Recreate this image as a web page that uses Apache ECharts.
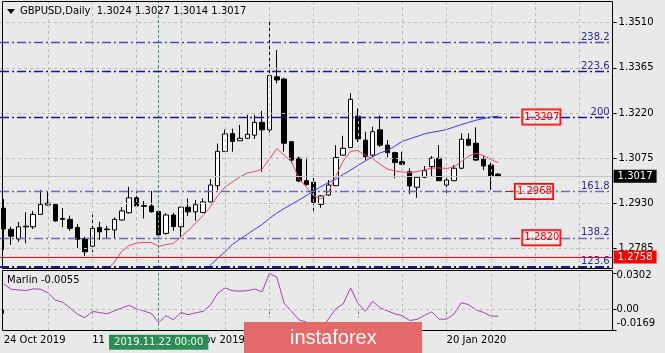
<!DOCTYPE html>
<html>
<head>
<meta charset="utf-8">
<script src="https://cdn.jsdelivr.net/npm/echarts@6/dist/echarts.min.js"></script>
<style>
html, body { margin: 0; padding: 0; background: #e9e9e9; }
#chart { width: 665px; height: 353px; }
</style>
</head>
<body>
<div id="chart"></div>
<script>
let symbol = 'GBPUSD';
let period = 'Daily';
const FONT = 'DejaVu Sans';

let dates = [
    '2019.10.24', '2019.10.25', '2019.10.28', '2019.10.29', '2019.10.30', '2019.10.31', '2019.11.01',
    '2019.11.04', '2019.11.05', '2019.11.06', '2019.11.07', '2019.11.08',
    '2019.11.11', '2019.11.12', '2019.11.13', '2019.11.14', '2019.11.15',
    '2019.11.18', '2019.11.19', '2019.11.20', '2019.11.21', '2019.11.22',
    '2019.11.25', '2019.11.26', '2019.11.27', '2019.11.28', '2019.11.29',
    '2019.12.02', '2019.12.03', '2019.12.04', '2019.12.05', '2019.12.06',
    '2019.12.09', '2019.12.10', '2019.12.11', '2019.12.12', '2019.12.13',
    '2019.12.16', '2019.12.17', '2019.12.18', '2019.12.19', '2019.12.20',
    '2019.12.23', '2019.12.24', '2019.12.26', '2019.12.27', '2019.12.30', '2019.12.31',
    '2020.01.02', '2020.01.03',
    '2020.01.06', '2020.01.07', '2020.01.08', '2020.01.09', '2020.01.10',
    '2020.01.13', '2020.01.14', '2020.01.15', '2020.01.16', '2020.01.17',
    '2020.01.20', '2020.01.21', '2020.01.22', '2020.01.23', '2020.01.24',
    '2020.01.27', '2020.01.28', '2020.01.29'
];

let opens = [
    1.2915, 1.2847, 1.2816, 1.2857, 1.2855, 1.2895, 1.2925, 1.2927, 1.2882, 1.2879,
    1.2853, 1.2817, 1.2793, 1.2853, 1.2848, 1.2845, 1.2877, 1.2900, 1.2948, 1.2923,
    1.2922, 1.2904, 1.2834, 1.2893, 1.2855, 1.2918, 1.2903, 1.2901, 1.2935, 1.2987,
    1.3097, 1.3154, 1.3131, 1.3139, 1.3149, 1.3190, 1.3166, 1.3336, 1.3329, 1.3128,
    1.3075, 1.3003, 1.2998, 1.2927, 1.2957, 1.2987, 1.3085, 1.3109, 1.3210, 1.3133,
    1.3085, 1.3166, 1.3117, 1.3093, 1.3064, 1.3032, 1.2982, 1.3014, 1.3048, 1.3075,
    1.2989, 1.3003, 1.3043, 1.3136, 1.3123, 1.3072, 1.3053, 1.3024
];
let highs = [
    1.2944, 1.2855, 1.2871, 1.2902, 1.2906, 1.2973, 1.2970, 1.2931, 1.2915, 1.2891,
    1.2864, 1.2823, 1.2894, 1.2871, 1.2858, 1.2885, 1.2918, 1.2983, 1.2971, 1.2938,
    1.2970, 1.2909, 1.2899, 1.2900, 1.2919, 1.2946, 1.2941, 1.2946, 1.3008, 1.3122,
    1.3167, 1.3170, 1.3182, 1.3214, 1.3214, 1.3227, 1.3515, 1.3422, 1.3333, 1.3130,
    1.3080, 1.3077, 1.3023, 1.2957, 1.3005, 1.3117, 1.3147, 1.3283, 1.3235, 1.3160,
    1.3176, 1.3212, 1.3133, 1.3096, 1.3096, 1.3043, 1.3018, 1.3050, 1.3082, 1.3117,
    1.3014, 1.3053, 1.3155, 1.3155, 1.3174, 1.3082, 1.3061, 1.3027
];
let lows = [
    1.2781, 1.2797, 1.2807, 1.2802, 1.2848, 1.2894, 1.2923, 1.2871, 1.2854, 1.2842,
    1.2787, 1.2761, 1.2774, 1.2813, 1.2818, 1.2819, 1.2875, 1.2898, 1.2918, 1.2882,
    1.2901, 1.2825, 1.2830, 1.2842, 1.2823, 1.2890, 1.2875, 1.2899, 1.2934, 1.2973,
    1.3095, 1.3096, 1.3130, 1.3137, 1.3137, 1.3032, 1.3158, 1.3315, 1.3096, 1.3059,
    1.2999, 1.2987, 1.2898, 1.2916, 1.2954, 1.2986, 1.3084, 1.3108, 1.3127, 1.3069,
    1.3079, 1.3111, 1.3078, 1.3011, 1.3053, 1.2960, 1.2948, 1.3011, 1.3018, 1.3002,
    1.2960, 1.3002, 1.3040, 1.3114, 1.3066, 1.3037, 1.2973, 1.3014
];
let closes = [
    1.2848, 1.2825, 1.2855, 1.2855, 1.2895, 1.2927, 1.2931, 1.2874, 1.2879, 1.2850,
    1.2815, 1.2775, 1.2850, 1.2839, 1.2846, 1.2879, 1.2906, 1.2948, 1.2922, 1.2921,
    1.2903, 1.2829, 1.2893, 1.2856, 1.2918, 1.2903, 1.2926, 1.2935, 1.2989, 1.3097,
    1.3153, 1.3129, 1.3139, 1.3152, 1.3190, 1.3166, 1.3340, 1.3326, 1.3123, 1.3069,
    1.3002, 1.2991, 1.2934, 1.2954, 1.2989, 1.3077, 1.3107, 1.3264, 1.3137, 1.3080,
    1.3160, 1.3117, 1.3093, 1.3061, 1.3056, 1.2986, 1.3014, 1.3035, 1.3075, 1.3003,
    1.3005, 1.3043, 1.3136, 1.3117, 1.3069, 1.3050, 1.3018, 1.3017
];

// short MA (red) and long MA (blue)
let maFast = [
    null, null, null, null, null, null, null, null, null, null, null, null, null, null,
    1.2716, 1.2742, 1.2777, 1.2795, 1.2803, 1.2805, 1.2805, 1.2792, 1.2798, 1.2802,
    1.2822, 1.2843, 1.2867, 1.2891, 1.2919, 1.2955, 1.2983, 1.2999, 1.3015, 1.3028,
    1.3032, 1.3040, 1.3072, 1.3106, 1.3085, 1.3064, 1.3010, 1.2983, 1.2954, 1.2944,
    1.2967, 1.3018, 1.3066, 1.3097, 1.3100, 1.3084, 1.3074, 1.3055, 1.3040, 1.3034,
    1.3031, 1.3029, 1.3032, 1.3038, 1.3043, 1.3044, 1.3042, 1.3047, 1.3064, 1.3082,
    1.3091, 1.3084, 1.3071, 1.3061
];
let maSlow = [
    null, null, null, null, null, null, null, null, null, null, null, null, null, null,
    null, null, null, null, null, null, null, null, null, null, null, null, null,
    1.2710, 1.2732, 1.2754, 1.2776, 1.2799, 1.2815, 1.2831, 1.2847, 1.2862, 1.2882,
    1.2899, 1.2914, 1.2927, 1.2941, 1.2955, 1.2970, 1.2984, 1.2997, 1.3008, 1.3023,
    1.3037, 1.3052, 1.3066, 1.3080, 1.3092, 1.3100, 1.3114, 1.3129, 1.3137, 1.3145,
    1.3153, 1.3158, 1.3162, 1.3167, 1.3175, 1.3183, 1.3190, 1.3197, 1.3202, 1.3207,
    1.3210
];
let marlin = [
    0.0215, 0.0170, 0.0164, 0.0159, 0.0173, 0.0170, 0.0140, 0.0080, 0.0061, 0.0014,
    -0.0038, -0.0067, -0.0014, -0.0024, -0.0034, -0.0010, 0.0015, 0.0036, 0.0007, -0.0012,
    -0.0031, -0.0107, -0.0050, -0.0084, -0.0023, -0.0042, -0.0027, -0.0014, 0.0036, 0.0137,
    0.0181, 0.0158, 0.0154, 0.0158, 0.0172, 0.0148, 0.0302, 0.0271, 0.0053, -0.0014,
    -0.0084, -0.0104, -0.0135, -0.0169, -0.0077, 0.0007, 0.0049, 0.0181, 0.0053, -0.0013,
    0.0070, 0.0015, -0.0010, -0.0035, -0.0050, -0.0090, -0.0081, -0.0048, -0.0018, -0.0079,
    -0.0079, -0.0037, 0.0057, 0.0042, -0.0002, -0.0023, -0.0052, -0.0055
];

let priceTicks = [1.2785, 1.2930, 1.3075, 1.3220, 1.3365, 1.3510];
let marlinTicks = [-0.0169, 0, 0.0302];

let fibNames = ['238.2', '223.6', '200', '161.8', '138.2', '123.6'];
let fibLevels = [1.3447, 1.3355, 1.3207, 1.2968, 1.2820, 1.2728];
let fibColors = ['#4a4ac8', '#1a1a8e', '#1a1a8e', '#6a6ac4', '#6a6ac4', '#1a1a8e'];

let boxLevels = [1.3207, 1.2968, 1.2820];
let boxStart = [69, 68, 69];

let supportLevel = 1.2758;
let markedBar = 21;
let slots = 83;

const MONTHS = ['Jan', 'Feb', 'Mar', 'Apr', 'May', 'Jun', 'Jul', 'Aug', 'Sep', 'Oct', 'Nov', 'Dec'];
function fmtDate(s) {
    let p = s.split('.');
    return (+p[2]) + ' ' + MONTHS[+p[1] - 1] + ' ' + p[0];
}

let cats = dates.slice();
for (let i = dates.length; i < slots; i++) cats.push('f' + i);

let last = dates.length - 1;
let candles = [];
for (let i = 0; i < dates.length; i++) {
    candles.push([opens[i], closes[i], lows[i], highs[i]]);
}

let vGrid = [];
for (let i = 6; i < slots; i += 6) vGrid.push({ xAxis: i });

let dashGrid = { color: '#bcbcbc', type: [3, 3], width: 1 };
let greenDash = { color: '#2e9b5a', type: [3, 2], width: 1 };

let fibLines = fibLevels.map((lvl, k) => ({
    yAxis: lvl,
    lineStyle: { color: fibColors[k], type: [9, 3, 2, 3], width: k === 5 ? 2 : 1.3 },
    label: {
        show: true, position: 'insideEndTop', formatter: fibNames[k], distance: [3, 0],
        color: '#2a2a9e', fontSize: 10, fontFamily: FONT
    }
}));

let boxLines = boxLevels.map((lvl, k) => [
    {
        coord: [boxStart[k], lvl],
        lineStyle: { color: '#f00', type: 'solid', width: 1 },
        label: {
            show: true, position: 'end', distance: 2, formatter: lvl.toFixed(4),
            color: '#f00', fontSize: 10, fontFamily: FONT,
            backgroundColor: 'rgba(255,255,255,0.25)', borderColor: '#f00', borderWidth: 1,
            padding: [3, 1, 2, 2]
        }
    },
    { coord: [boxStart[k] + 1, lvl] }
]);

let levelLines = fibLines.concat(boxLines).concat([
    {
        yAxis: supportLevel,
        lineStyle: { color: '#ff0000', type: 'solid', width: 1 },
        label: {
            show: true, position: 'end', distance: 1, formatter: supportLevel.toFixed(4),
            color: '#fff', backgroundColor: '#f00', padding: [2, 4, 1, 4],
            fontSize: 10, fontFamily: FONT
        }
    },
    {
        yAxis: closes[last],
        lineStyle: { color: '#c4c4c4', type: 'solid', width: 1 },
        label: {
            show: true, position: 'end', distance: 1, formatter: closes[last].toFixed(4),
            color: '#fff', backgroundColor: '#000', padding: [2, 4, 1, 4],
            fontSize: 10, fontFamily: FONT
        }
    }
]);

let option = {
    animation: false,
    backgroundColor: '#e9e9e9',
    textStyle: { fontFamily: FONT },
    title: [
        {
            text: symbol + ',' + period + '  ' + [opens[last], highs[last], lows[last], closes[last]].map(v => v.toFixed(4)).join(' '),
            left: 20, top: 6, padding: 0,
            textStyle: { fontSize: 10, fontWeight: 'normal', color: '#000', fontFamily: FONT }
        },
        {
            text: 'Marlin ' + marlin[last].toFixed(4),
            left: 7, top: 275, padding: 0,
            textStyle: { fontSize: 10, fontWeight: 'normal', color: '#000', fontFamily: FONT }
        }
    ],
    grid: [
        { left: 0, top: 2, width: 612.6, height: 266, containLabel: false, outerBoundsMode: 'none' },
        { left: 0, top: 270, width: 612.6, height: 60.7, containLabel: false, outerBoundsMode: 'none' }
    ],
    xAxis: [
        {
            type: 'category', gridIndex: 0, data: cats, boundaryGap: true,
            axisLine: { show: false }, axisTick: { show: false }, axisLabel: { show: false },
            splitLine: { show: false }
        },
        {
            type: 'category', gridIndex: 1, data: cats, boundaryGap: true,
            axisLine: { show: false },
            axisTick: {
                show: true, alignWithLabel: true, length: 4,
                interval: (i) => i % 12 === 0 && i < dates.length,
                lineStyle: { color: '#000' }
            },
            axisLabel: {
                interval: (i) => i % 12 === 0 && i < dates.length,
                formatter: (v) => fmtDate(v), align: 'left', margin: 5,
                color: '#000', fontSize: 10, fontFamily: FONT
            },
            splitLine: { show: false },
            axisPointer: {
                show: true, value: markedBar, status: 'show', type: 'line', snap: false,
                triggerTooltip: false,
                lineStyle: { opacity: 0 },
                label: {
                    show: true, margin: 4,
                    formatter: (p) => (typeof p.value === 'number' ? cats[p.value] : p.value) + ' 00:00',
                    backgroundColor: '#2e8b57', color: '#f0fff0', padding: [3, 5, 2, 5],
                    fontSize: 10, fontFamily: FONT, borderRadius: 0
                }
            }
        }
    ],
    yAxis: [
        {
            type: 'value', gridIndex: 0, position: 'right', min: 1.2723, max: 1.3576,
            axisLine: { show: false },
            axisTick: { show: true, length: 4, customValues: priceTicks, lineStyle: { color: '#000' } },
            axisLabel: {
                customValues: priceTicks, formatter: (v) => v.toFixed(4), margin: 6,
                color: '#000', fontSize: 10, fontFamily: FONT
            },
            splitLine: { show: false }
        },
        {
            type: 'value', gridIndex: 1, position: 'right', min: -0.0175, max: 0.0330,
            axisLine: { show: false },
            axisTick: { show: true, length: 4, customValues: marlinTicks, lineStyle: { color: '#000' } },
            axisLabel: {
                customValues: marlinTicks, margin: 4,
                formatter: (v) => v > 0 ? '{t|' + v.toFixed(4) + '}' : (v < 0 ? '{b|' + v.toFixed(4) + '}' : '0.00'),
                color: '#000', fontSize: 10, fontFamily: FONT,
                rich: {
                    t: { padding: [5, 0, 0, 0], fontSize: 10, fontFamily: FONT, color: '#000' },
                    b: { padding: [0, 0, 13, 0], fontSize: 10, fontFamily: FONT, color: '#000' }
                }
            },
            splitLine: { show: false }
        }
    ],
    series: [
        {
            name: 'grid',
            type: 'line', xAxisIndex: 0, yAxisIndex: 0, data: closes,
            symbol: 'none', silent: true, z: 0,
            lineStyle: { opacity: 0 },
            markLine: {
                symbol: 'none', silent: true, precision: 6, label: { show: false }, emphasis: { disabled: true },
                data: priceTicks.map(v => ({ yAxis: v, lineStyle: dashGrid }))
                    .concat(vGrid.map(d => Object.assign({ lineStyle: dashGrid }, d)))
                    .concat([{ xAxis: markedBar, lineStyle: greenDash }])
            }
        },
        {
            name: symbol,
            type: 'candlestick', xAxisIndex: 0, yAxisIndex: 0, data: candles,
            barWidth: 5, z: 3,
            itemStyle: {
                color: '#ffffff', color0: '#000000',
                borderColor: '#000000', borderColor0: '#000000', borderWidth: 1
            }
        },
        {
            name: 'levels',
            type: 'line', xAxisIndex: 0, yAxisIndex: 0, data: closes,
            symbol: 'none', silent: true, z: 2,
            lineStyle: { opacity: 0 },
            markLine: {
                symbol: 'none', silent: true, precision: 6, emphasis: { disabled: true },
                data: levelLines
            }
        },
        {
            name: 'MA fast',
            type: 'line', xAxisIndex: 0, yAxisIndex: 0, data: maFast,
            symbol: 'none', z: 4,
            lineStyle: { color: '#e84a62', width: 1 }
        },
        {
            name: 'MA slow',
            type: 'line', xAxisIndex: 0, yAxisIndex: 0, data: maSlow,
            symbol: 'none', z: 4,
            lineStyle: { color: '#3a3aff', width: 1 }
        },
        {
            name: 'Marlin',
            type: 'line', xAxisIndex: 1, yAxisIndex: 1, data: marlin,
            symbol: 'none', z: 4,
            lineStyle: { color: '#a83fb5', width: 1 },
            markLine: {
                symbol: 'none', silent: true, precision: 6, label: { show: false }, emphasis: { disabled: true },
                data: [{ yAxis: 0, lineStyle: dashGrid }]
                    .concat(vGrid.map(d => Object.assign({ lineStyle: dashGrid }, d)))
                    .concat([{ xAxis: markedBar, lineStyle: greenDash }])
            }
        }
    ],
    graphic: [
        { type: 'polygon', shape: { points: [[7, 9], [15, 9], [11, 14]] }, style: { fill: '#000' }, z: 50 },
        { type: 'rect', shape: { x: 2.5, y: 1.5, width: 610, height: 267 }, style: { fill: 'none', stroke: '#000', lineWidth: 1 }, z: 50 },
        { type: 'rect', shape: { x: 2.5, y: 270.5, width: 610, height: 60 }, style: { fill: 'none', stroke: '#000', lineWidth: 1 }, z: 50 },
        { type: 'rect', shape: { x: 244, y: 322, width: 178, height: 31 }, style: { fill: '#e46a6a' }, z: 100 },
        {
            type: 'text', x: 290, y: 338, z: 101,
            style: {
                text: 'instaforex', fill: '#ffffff', fontSize: 20,
                fontFamily: 'Liberation Sans', verticalAlign: 'middle'
            }
        }
    ]
};

let chart = echarts.init(document.getElementById('chart'));
chart.setOption(option);
</script>
</body>
</html>
